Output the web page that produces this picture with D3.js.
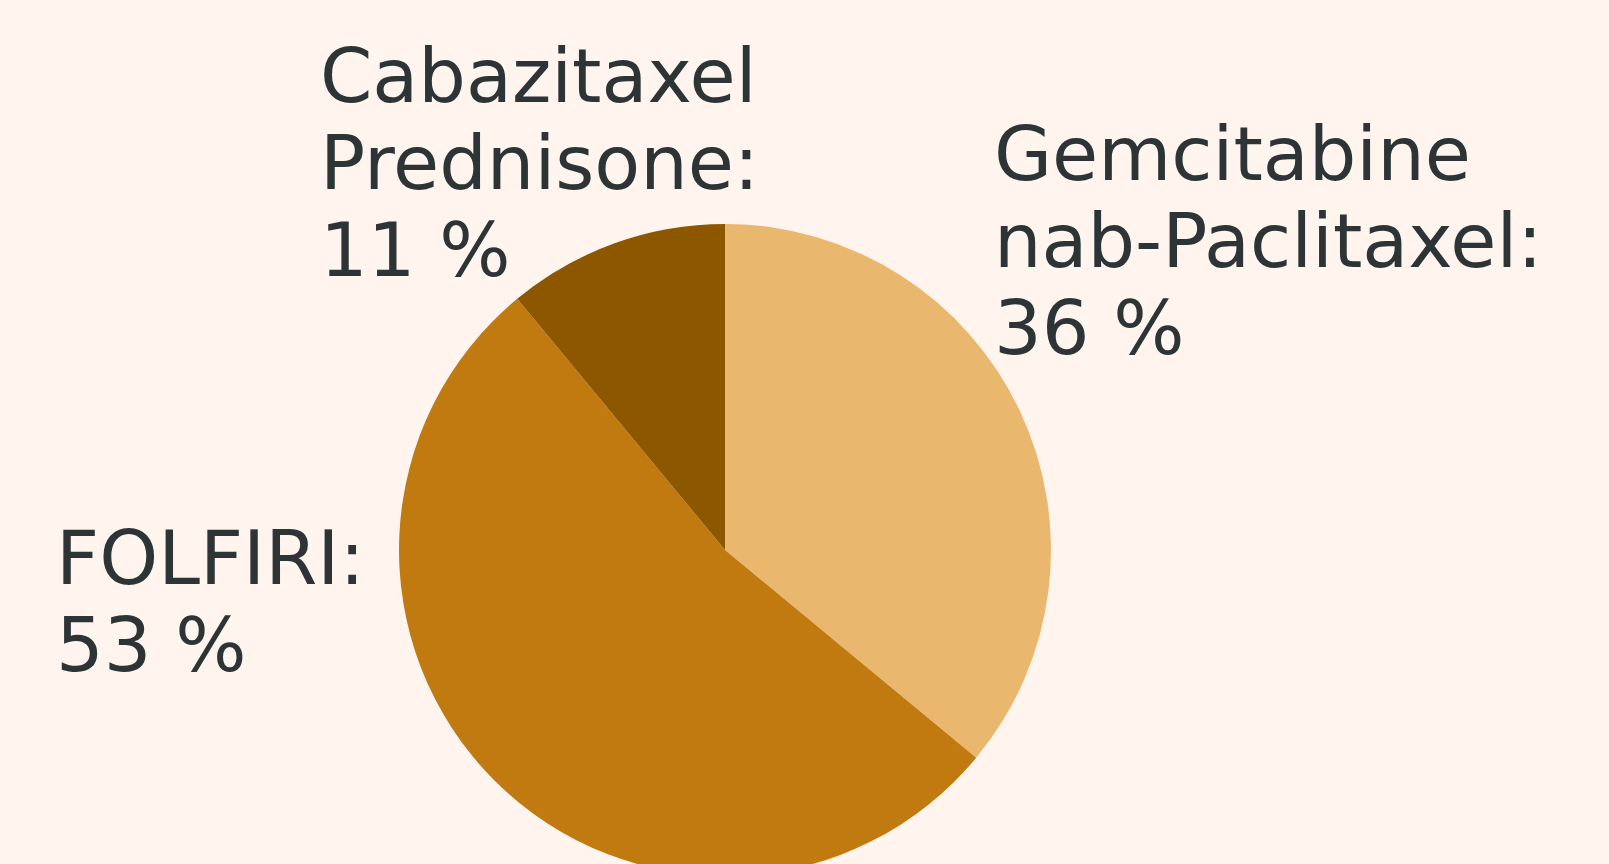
<html>
<head>
<meta charset="utf-8">
<script src="https://cdn.jsdelivr.net/npm/d3@7/dist/d3.min.js"></script>
<style>
body { margin: 0; background: #fff4ee; overflow: hidden; }
svg text { font-family: "DejaVu Sans", sans-serif; font-size: 75px; fill: #2d3436; }
</style>
</head>
<body>
<svg id="chart" width="1609" height="864"></svg>
<script>
// data
var v_Names  = [["Gemcitabine", "nab-Paclitaxel:"], ["FOLFIRI:"], ["Cabazitaxel", "Prednisone:"]];
var v_Values = [36, 53, 11];
var v_Colors = ["#e9b76e", "#c17a0f", "#8d5700"];

// layout
var v_Width   = 1609;
var v_Height  = 864;
var v_CX      = 725;
var v_CY      = 550;
var v_Radius  = 326;
var v_LineH   = 87;
var v_LabelXY = [[994, 180], [56, 584], [320, 102]];   // first baseline of each label

var v_SVG = d3.select("#chart");

var v_Pie = d3.pie().sort(null).value(function(d){ return d; });
var v_Arc = d3.arc().innerRadius(0).outerRadius(v_Radius);
var v_Total = d3.sum(v_Values);

var v_G = v_SVG.append("g").attr("transform", "translate(" + v_CX + "," + v_CY + ")");

v_G.selectAll("path")
   .data(v_Pie(v_Values))
   .enter().append("path")
   .attr("d", v_Arc)
   .attr("fill", function(d, i){ return v_Colors[i]; });

// labels
var v_Labels = v_SVG.selectAll("text.lbl")
   .data(v_Values)
   .enter().append("text")
   .attr("class", "lbl")
   .attr("x", function(d, i){ return v_LabelXY[i][0]; })
   .attr("y", function(d, i){ return v_LabelXY[i][1]; });

v_Labels.each(function(d, i)
{
	var v_Lines = v_Names[i].concat([Math.round(d / v_Total * 100) + " %"]);
	d3.select(this).selectAll("tspan")
	  .data(v_Lines)
	  .enter().append("tspan")
	  .attr("x", v_LabelXY[i][0])
	  .attr("dy", function(t, j){ return j == 0 ? 0 : v_LineH; })
	  .text(function(t){ return t; });
});
</script>
</body>
</html>
